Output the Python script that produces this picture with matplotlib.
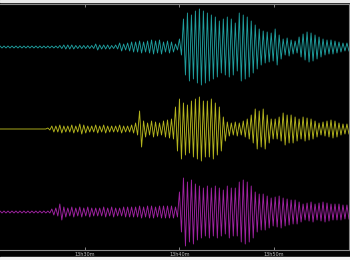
import matplotlib.pyplot as plt
import numpy as np

# envelope (half amplitude, px) read every 4 px along the record
step = 4
cyan = [1, 1, 1, 1, 1, 1, 1, 1, 1, 1,
        1, 1, 1, 1, 1, 1.5, 2, 2, 2, 1.5,
        1.5, 1.5, 1.5, 1.5, 3, 2, 2, 2, 1.5, 2,
        4, 3, 4, 5, 5, 6, 5, 6, 7, 6,
        7, 5, 6, 5, 3, 8, 28, 34, 32, 36,
        38, 36, 34, 32, 30, 26, 28, 30, 28, 24,
        34, 32, 30, 26, 22, 18, 16, 15, 14, 18,
        12, 8, 9, 7, 6, 10, 13, 15, 14, 12,
        10, 8, 7, 7, 6, 5, 4, 4]
yellow = [0, 0, 0, 0, 0, 0, 0, 0, 0, 0,
          0, 0, 1, 3, 3, 4, 3, 3, 4, 3,
          5, 4, 3, 3, 4, 3, 4, 3, 3, 3,
          4, 3, 3, 4, 6, 18, 8, 6, 8, 7,
          6, 8, 9, 10, 22, 30, 26, 24, 28, 30,
          32, 28, 28, 30, 26, 22, 12, 7, 6, 7,
          6, 8, 10, 14, 20, 18, 20, 14, 10, 10,
          12, 16, 14, 14, 12, 10, 12, 11, 10, 8,
          6, 7, 8, 9, 8, 6, 5, 5]
magenta = [1, 1, 1, 1, 1, 1, 1, 1, 1, 1,
           1, 1, 1, 3, 4, 8, 5, 4, 5, 4,
           5, 4, 5, 4, 4, 4, 5, 4, 5, 4,
           4, 5, 5, 5, 5, 6, 5, 6, 6, 5,
           6, 6, 6, 6, 5, 20, 34, 30, 32, 28,
           26, 24, 26, 24, 26, 24, 22, 26, 24, 24,
           30, 32, 30, 26, 20, 18, 18, 16, 14, 15,
           16, 14, 13, 12, 12, 10, 8, 9, 10, 8,
           9, 10, 9, 8, 8, 8, 7, 7]

baselines = [47, 129, 212]
colours = ['#1f9e9e', '#b5b51e', '#a023a2']
tick_pos = [85, 180, 275]
tick_labels = ['13h30m', '13h40m', '13h50m']

fig = plt.figure(figsize=(3.5, 2.6), dpi=100, facecolor='black')
fig.patches.append(plt.Rectangle((0, 0.992), 1, 0.008, transform=fig.transFigure,
                                 color='#e8e8e8', zorder=0))
fig.patches.append(plt.Rectangle((0, 0), 1, 0.01, transform=fig.transFigure,
                                 color='#f0f0f0', zorder=0))
ax = fig.add_axes([0, 10 / 260, 0.997, 246 / 260])
ax.set_facecolor('black')

for env, base, c in zip([cyan, yellow, magenta], baselines, colours):
    env = np.array(env, dtype=float)
    x0 = np.arange(len(env)) * step
    xs = np.column_stack([x0, x0 + step / 2]).ravel()
    ys = np.column_stack([base - env, base + env]).ravel()
    ax.plot(xs, ys, color=c, lw=0.65)

ax.set_xlim(0, 350)
ax.set_ylim(250, 4)
ax.set_xticks(tick_pos)
ax.set_xticklabels(tick_labels)
ax.set_yticks([])
ax.tick_params(axis='x', direction='in', top=True, length=2, width=0.6,
               color='#999999', labelcolor='#bbbbbb', labelsize=3.5, pad=1.5)
for s in ax.spines.values():
    s.set_color('#8a8a8a')
    s.set_linewidth(0.8)
ax.spines['left'].set_visible(False)

fig.savefig('out.png', dpi=100, facecolor='black')
